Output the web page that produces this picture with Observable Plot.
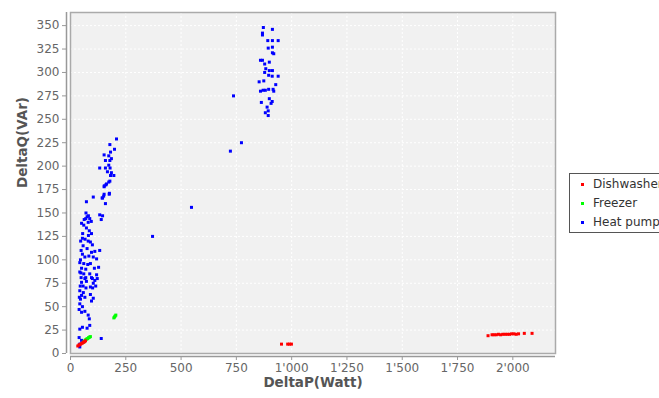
<!DOCTYPE html>
<html><head><meta charset="utf-8">
<script src="https://cdn.jsdelivr.net/npm/d3@7"></script>
<script src="https://cdn.jsdelivr.net/npm/@observablehq/plot@0.6"></script>
<style>
html,body{margin:0;padding:0;background:#fff;overflow:hidden;width:659px;height:398px;}
#wrap{position:relative;width:659px;height:398px;overflow:hidden;}
#legend{position:absolute;left:569px;top:173px;width:120px;height:58px;border:1px solid #555;background:#fff;font:12px "DejaVu Sans",sans-serif;color:#333;}
.item{position:absolute;left:0;height:19px;line-height:19px;white-space:nowrap;}
.sw{position:absolute;left:11px;top:8px;width:3px;height:3px;}
.lb{position:absolute;left:23px;top:0;}
</style></head>
<body><div id="wrap"><div id="chart"></div><div id="legend"></div></div>
<script>
const seriesNames = ["Dishwasher", "Freezer", "Heat pump"];
const seriesColors = ["#ff0000", "#00ff00", "#0000ff"];
const xTicks = [0, 250, 500, 750, 1000, 1250, 1500, 1750, 2000];
const yTicks = [0, 25, 50, 75, 100, 125, 150, 175, 200, 225, 250, 275, 300, 325, 350];

// [DeltaP (W), DeltaQ (VAr)]
const dishwasher = [[33,8],[38,9],[43,9.5],[48,10.5],[53,11],[58,12],[63,12.5],[68,13.5],
  [954,10],[982,10],[990,10],[999,10],
  [1888,19],[1906,20],[1915,20],[1925,20],[1935,20.5],[1945,20],[1955,20.5],[1965,20.5],[1975,20.5],
  [1985,20.5],[1995,21],[2005,21],[2015,20.5],[2026,21],[2052,21.5],[2087,21.5]];
const freezer = [[58,12],[62,13],[66,14],[70,15],[74,15.5],[78,16],[82,17],[86,17.5],[90,18],
  [196,38],[199,39],[202,40],[205,41]];
const heatPump = [
  [872,348],[913,346],[868,342],[868,340],[892,334],[913,334],[939,334],[894,326],[913,327],[913,321],
  [919,320],[859,313],[868,313],[878,309],[899,311],[883,304],[899,302],[913,302],[878,300],[896,297],
  [912,296],[939,296],[853,290],[874,291],[928,287],[859,280],[871,281],[881,281],[896,282],[916,282],
  [919,280],[863,268],[899,272],[912,269],[907,267],[889,263],[894,259],[881,257],[894,254],
  [737,275],[773,225],[723,216],[547,156],[371,125],[139,16],
  [208,229],[178,223],[199,218],[181,215],[152,212],[173,211],[185,208],[158,206],[178,206],[173,201],
  [132,198],[158,198],[179,198],[167,194],[185,193],[196,190],[181,190],[178,184],[163,181],[152,178],
  [176,171],[152,170],[143,166],
  [173,183],[160,180],[153,179],[175,170],[150,168],[103,167],[145,166],[72,162],[158,160],[81,147],
  [69,144],[87,144],[132,148],[145,147],[139,143],[80,140],[94,141],[72,134],[85,131],[95,128],
  [81,126],[54,123],[66,122],[80,120],[90,119],[99,116],[132,110],[57,115],[75,112],[95,108],
  [110,109],[54,106],[65,103],[83,104],[103,103],[118,101],[42,97],[60,96],[78,95],[90,96],
  [50,91],[69,90],[108,91],[127,92],[42,87],[60,85],[87,85],[118,84],[48,81],[69,81],[99,80],[121,80],
  [65,80],[95,81],[50,76],[72,77],[103,75],[57,72],[90,71],[114,72],[42,67],[50,62],[45,58],[65,60],
  [90,63],[103,59],[95,56],[42,53],[54,50],[39,47],[50,44],[65,45],[80,41],[85,37],[54,28],[75,27],
  [87,30],[42,26],[39,17],[50,14],[42,10],[42,7],
  [45,100],[48,110],[46,120],[55,128],[60,137],[50,139],[62,143],[70,150],[75,146],[44,72],[40,60],
  [47,86],[58,65],[70,70],[100,70],[110,78]
];
const seriesData = [dishwasher, freezer, heatPump];

const fmt = d3.formatLocale({decimal: ".", thousands: "'", grouping: [3], currency: ["", ""]}).format(",");
const font = "DejaVu Sans, sans-serif";

const dotMarks = [2, 1, 0].map(i => Plot.dot(seriesData[i], {
  x: d => d[0], y: d => d[1], fill: seriesColors[i], symbol: "square", r: 1.7, stroke: "none"
}));

const chart = Plot.plot({
  width: 659, height: 398,
  marginLeft: 70, marginRight: 104, marginTop: 12, marginBottom: 45,
  x: {domain: [0, 2193]},
  y: {domain: [0, 364]},
  style: {fontFamily: font, fontSize: "12px", color: "#666", background: "transparent", overflow: "visible"},
  marks: [
    Plot.frame({fill: "#f1f1f1", stroke: "none"}),
    Plot.gridX(xTicks, {stroke: "#ffffff", strokeOpacity: 1, strokeDasharray: "2,2"}),
    Plot.gridY(yTicks, {stroke: "#ffffff", strokeOpacity: 1, strokeDasharray: "2,2"}),
    Plot.frame({stroke: "#aaaaaa", strokeWidth: 1.5}),
    Plot.ruleX([0], {dx: -4, stroke: "#999", strokeWidth: 1.5}),
    Plot.ruleY([0], {dy: 3, stroke: "#999", strokeWidth: 1.5}),
    Plot.axisX(xTicks, {dy: 3, tickSize: 4, tickPadding: 3, tickFormat: fmt, label: null, stroke: "#999", fill: "#666", fontSize: 12}),
    Plot.axisY(yTicks, {dx: -4, tickSize: 4, tickPadding: 3, label: null, stroke: "#999", fill: "#666", fontSize: 12}),
    ...dotMarks,
    Plot.text(["DeltaP(Watt)"], {frameAnchor: "bottom", dy: 33, fontSize: 13.5, fontWeight: "bold", fill: "#555"}),
    Plot.text(["DeltaQ(VAr)"], {frameAnchor: "left", rotate: -90, dx: -48, dy: 5, fontSize: 13.5, fontWeight: "bold", fill: "#555"})
  ]
});
document.getElementById("chart").appendChild(chart);

const legend = document.getElementById("legend");
seriesNames.forEach((name, i) => {
  const item = document.createElement("div");
  item.className = "item";
  item.style.top = (1 + i * 19) + "px";
  const sw = document.createElement("div");
  sw.className = "sw";
  sw.style.background = seriesColors[i];
  const lb = document.createElement("div");
  lb.className = "lb";
  lb.textContent = name;
  item.appendChild(sw); item.appendChild(lb);
  legend.appendChild(item);
});
</script>
</body></html>
